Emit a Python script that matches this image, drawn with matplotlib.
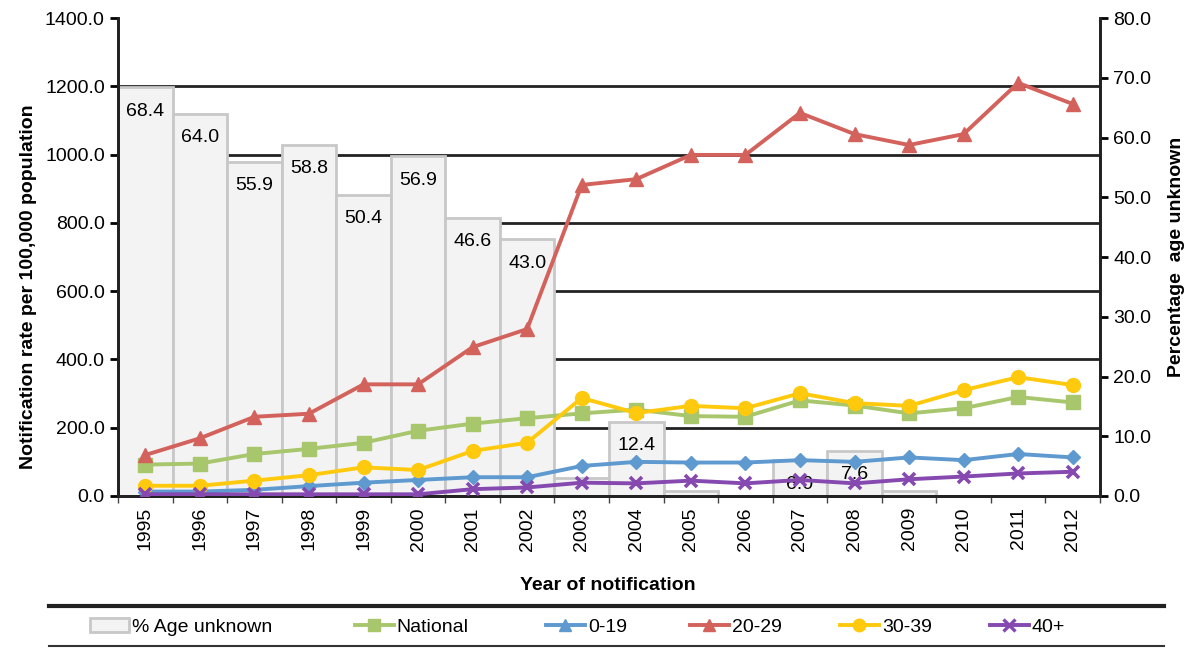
import numpy as np
import matplotlib
matplotlib.use("Agg")
import matplotlib.pyplot as plt
from matplotlib.lines import Line2D
from matplotlib.patches import Patch

plt.rcParams['font.family'] = ['Liberation Sans', 'DejaVu Sans']

anos = [1995, 1996, 1997, 1998, 1999, 2000, 2001, 2002, 2003,
        2004, 2005, 2006, 2007, 2008, 2009, 2010, 2011, 2012]

pct_desconhecido = [68.4, 64.0, 55.9, 58.8, 50.4, 56.9, 46.6, 43.0, 3.0,
                    12.4, 0.8, 0.0, 6.0, 7.6, 0.8, 0.0, 0.0, 0.0]

nacional = [92, 95, 123, 138, 156, 191, 212, 228, 242,
            253, 234, 232, 280, 265, 242, 257, 290, 274]
idade_0_19 = [13, 13, 18, 29, 39, 47, 55, 55, 88,
              100, 98, 98, 105, 100, 113, 105, 123, 113]
idade_20_29 = [120, 169, 232, 241, 327, 327, 436, 489, 911,
               928, 999, 999, 1122, 1060, 1028, 1060, 1210, 1148]
idade_30_39 = [30, 30, 45, 61, 84, 76, 132, 156, 287,
               243, 264, 257, 301, 272, 264, 310, 348, 325]
idade_40 = [5, 5, 5, 5, 5, 5, 20, 25, 39,
            37, 45, 37, 47, 37, 49, 57, 66, 71]

cor_nac = '#A8C66C'
cor_019 = '#5E99CF'
cor_2029 = '#D2625B'
cor_3039 = '#FFC90E'
cor_40 = '#8549B0'

fs = 14
x = np.arange(len(anos))

fig = plt.figure(figsize=(11.92, 6.48), dpi=100)
ax = fig.add_axes([118 / 1192, 152 / 648, 982 / 1192, 478 / 648])
ax2 = ax.twinx()
ax.set_zorder(ax2.get_zorder() + 1)
ax.patch.set_visible(False)

# grade (eixo esquerdo) desenhada atras das barras
for v in range(200, 1400, 200):
    ax2.plot([0, 1], [v, v], transform=ax.get_yaxis_transform(),
             color='#222222', lw=2, zorder=0)

# barras - % idade desconhecida
ax2.bar(x, pct_desconhecido, width=1.0, color='#F3F3F3',
        edgecolor='#C8C8C8', linewidth=2, zorder=2)
for xi, v in zip(x, pct_desconhecido):
    if v >= 5:
        ax2.annotate(f"{v:.1f}", (xi, v), xytext=(0, -24),
                     textcoords='offset pixels', ha='center', va='center',
                     fontsize=fs, zorder=3)

# linhas
lw = 2.8
ax.plot(x, nacional, color=cor_nac, lw=lw, marker='s', ms=10, zorder=3)
ax.plot(x, idade_0_19, color=cor_019, lw=lw, marker='D', ms=7, zorder=3)
ax.plot(x, idade_20_29, color=cor_2029, lw=lw, marker='^', ms=10, zorder=3)
ax.plot(x, idade_30_39, color=cor_3039, lw=lw, marker='o', ms=10, zorder=3)
ax.plot(x, idade_40, color=cor_40, lw=lw, marker='x', ms=9, mew=2.6, zorder=4)

ax.set_xlim(-0.5, len(anos) - 0.5)
ax.set_ylim(0, 1400)
ax2.set_ylim(0, 80)

ax.set_yticks(range(0, 1401, 200))
ax.set_yticklabels([f"{v:.1f}" for v in range(0, 1401, 200)], fontsize=fs)
ax2.set_yticks(range(0, 81, 10))
ax2.set_yticklabels([f"{v:.1f}" for v in range(0, 81, 10)], fontsize=fs)

ax.set_xticks(np.arange(-0.5, len(anos), 1.0))
ax.set_xticklabels([])
ax.set_xticks(x, minor=True)
ax.set_xticklabels([str(a) for a in anos], minor=True, rotation=90, fontsize=fs)
ax.tick_params(axis='x', which='minor', length=0, pad=8)
ax.tick_params(axis='x', which='major', length=5, width=1, color='#444444')
ax.tick_params(axis='y', length=6, width=2)
ax2.tick_params(axis='y', length=6, width=2)

for a in (ax, ax2):
    a.spines['top'].set_visible(False)
    for s in ('left', 'right', 'bottom'):
        a.spines[s].set_linewidth(2)
        a.spines[s].set_color('#222222')

ax.set_ylabel("Notification rate per 100,000 population", fontsize=fs,
              fontweight='bold', labelpad=11)
ax.yaxis.set_label_coords(-0.082, 0.437)
ax2.set_ylabel("Percentage  age unknown", fontsize=fs, fontweight='bold', labelpad=12)
fig.text(0.51, 1 - 585 / 648, "Year of notification", ha='center', va='center',
         fontsize=fs, fontweight='bold')

# linhas da legenda
fig.add_artist(Line2D([49 / 1192, 1164 / 1192], [1 - 606 / 648] * 2,
                      color='#222222', lw=3))
fig.add_artist(Line2D([49 / 1192, 1164 / 1192], [1 - 646 / 648] * 2,
                      color='#333333', lw=1.5))

handles = [
    Patch(facecolor='#F3F3F3', edgecolor='#C8C8C8', lw=2),
    Line2D([], [], color=cor_nac, lw=lw, marker='s', ms=9),
    Line2D([], [], color=cor_019, lw=lw, marker='^', ms=9),
    Line2D([], [], color=cor_2029, lw=lw, marker='^', ms=9),
    Line2D([], [], color=cor_3039, lw=lw, marker='o', ms=9),
    Line2D([], [], color=cor_40, lw=lw, marker='x', ms=8, mew=2.4),
]
labels = ["% Age unknown", "National", "0-19", "20-29", "30-39", "40+"]
inicio_x = [90, 355, 546, 690, 840, 990]
for h, lab, px in zip(handles, labels, inicio_x):
    fig.legend([h], [lab], loc='center left',
               bbox_to_anchor=(px / 1192, 1 - 627 / 648),
               frameon=False, fontsize=fs, handlelength=2.0,
               handletextpad=0.15, borderpad=0, borderaxespad=0)

fig.savefig("out.png", dpi=100)
